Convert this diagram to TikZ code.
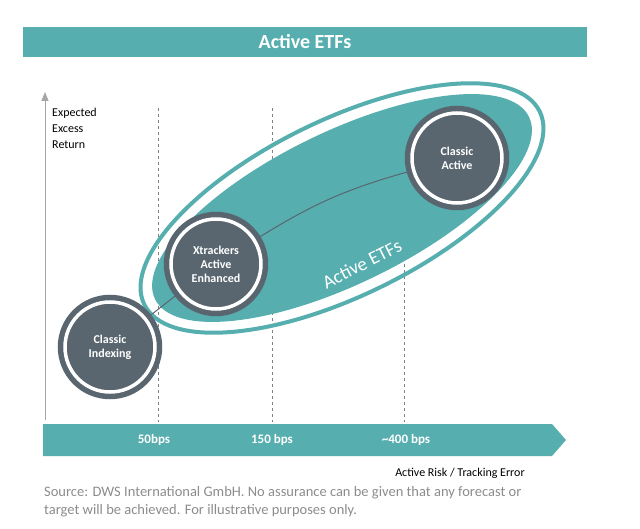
\documentclass[tikz,border=0pt]{standalone}
\usepackage{fontspec}
\setmainfont{Carlito}
\usetikzlibrary{arrows.meta}
\definecolor{teal}{HTML}{56AEAF}
\definecolor{slate}{HTML}{596670}
\begin{document}
\begin{tikzpicture}[x=1pt,y=-1pt,
    fund/.style={circle, draw=slate, line width=2.5pt, fill=slate, minimum size=102pt,
      text=white, font=\bfseries\fontsize{12}{14}\selectfont, align=center, inner sep=0pt},
    ring/.style={white, line width=3.5pt},
    tick/.style={gray, dashed, line width=0.6pt},
    band label/.style={text=white, font=\bfseries\fontsize{13}{15}\selectfont},
    note/.style={font=\fontsize{14.5}{18}\selectfont, text=gray!90}
  ]
  \useasboundingbox (0,0) rectangle (640,529);

  % Title bar
  \node[fill=teal, minimum width=564pt, minimum height=30pt, text=white,
        font=\bfseries\fontsize{20}{22}\selectfont] (title) at (305,42) {Active ETFs};

  % Axes
  \coordinate (y0) at (45,420);
  \coordinate (y1) at (45,92);
  \draw[gray!70, line width=0.8pt, -{Triangle[width=7pt,length=9pt]}] (y0) -- (y1);
  \node[anchor=north west, align=left, font=\fontsize{12}{16}\selectfont, inner sep=0pt] (ylab) at (52,108)
    {Expected\\Excess\\Return};
  \foreach \xx in {158,272,404} {\draw[tick] (\xx,108) -- (\xx,422);}

  % Band arrow
  \fill[teal] (43,424) -- (552,424) -- (566,440) -- (552,456) -- (43,456) -- cycle;
  \node[band label] (b50) at (154,440) {50bps};
  \node[band label] (b150) at (272,440) {150 bps};
  \node[band label] (b400) at (406,440) {\textasciitilde400 bps};
  \node[font=\fontsize{12}{14}\selectfont] (xlab) at (460,473) {Active Risk / Tracking Error};

  % Active ETFs ellipse
  \draw[teal, line width=4pt, rotate around={26:(342,208)}] (342,208) ellipse (220pt and 88pt);
  \fill[teal, rotate around={26:(342,208)}] (342,208) ellipse (208pt and 76pt);
  \node[text=white, rotate=27, font=\fontsize{19}{21}\selectfont] (etf) at (362,264) {Active ETFs};

  % Funds
  \node[fund] (idx) at (110,347) {Classic\\Indexing};
  \node[fund] (xtr) at (216,264) {Xtrackers\\Active\\Enhanced};
  \node[fund] (act) at (457,158) {Classic\\Active};
  \foreach \f in {idx,xtr,act} {\draw[ring] (\f.center) circle (45pt);}
  \draw[slate, line width=1pt] (idx) -- (xtr);
  \draw[slate, line width=1pt] (xtr) to[bend left=8] (act);

  % Source note
  \node[note, anchor=north west, align=left, inner sep=0pt] (src) at (44,486)
    {Source: DWS International GmbH. No assurance can be given that any forecast or\\target will be achieved. For illustrative purposes only.};
\end{tikzpicture}
\end{document}
